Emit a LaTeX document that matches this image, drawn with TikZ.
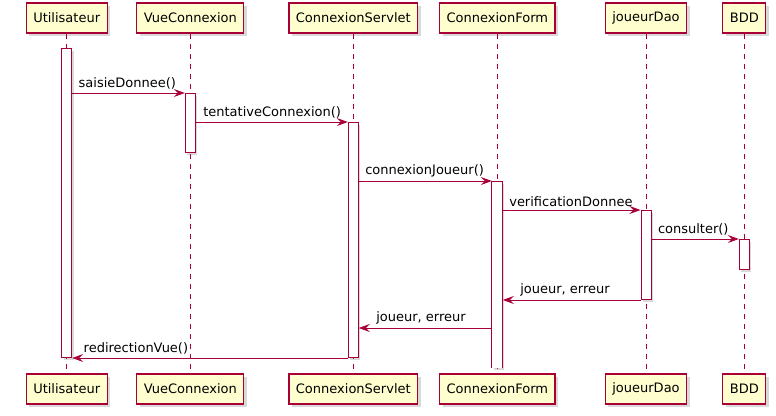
\documentclass[tikz,border=0pt]{standalone}
\usepackage{fontspec}
\setmainfont{DejaVu Sans}
\usetikzlibrary{arrows.meta,positioning,shadows}
\definecolor{umlred}{HTML}{A80036}
\definecolor{umlfill}{HTML}{FEFECE}

\begin{document}
\begin{tikzpicture}[x=1pt,y=-1pt,>={Stealth[length=11pt,width=8pt,inset=4pt]},
  part/.style={draw=umlred,fill=umlfill,line width=1.2pt,minimum height=30pt,inner xsep=7pt,
    font=\fontsize{13}{15}\selectfont,drop shadow={shadow xshift=3pt,shadow yshift=-3pt,opacity=0.3}},
  life/.style={draw=umlred,dash pattern=on 5pt off 5pt,line width=0.9pt},
  bar/.style={draw=umlred,fill=white,line width=1pt,minimum width=10pt,inner sep=0pt,anchor=north,
    drop shadow={shadow xshift=2pt,shadow yshift=-2pt,opacity=0.3}},
  msg/.style={draw=umlred,->,line width=1pt},
  lbl/.style={font=\fontsize{13}{15}\selectfont,inner sep=0pt}]
  \useasboundingbox (0,0) rectangle (776,415);

  % participants and lifelines
  \foreach \id/\name/\x in {u/Utilisateur/66.7, v/VueConnexion/190.3, s/ConnexionServlet/353.3,
      f/ConnexionForm/497.3, d/joueurDao/646, b/BDD/744.3} {
    \node[part] (\id T) at (\x,18) {\name};
    \node[part] (\id B) at (\x,389) {\name};
    \draw[life] (\id T) -- (\id B);
  }

  % activations
  \node[bar,minimum height=309pt] (aU) at (66.7,48) {};
  \node[bar,minimum height=59pt] (aV) at (190.3,93) {};
  \node[bar,minimum height=235pt] (aS) at (353.3,122) {};
  \node[bar,draw=none,minimum height=186pt] (aF) at (497.3,181) {};
  \draw[umlred,line width=1pt] (aF.south west) -- (aF.north west) -- (aF.north east) -- (aF.south east);
  \node[bar,minimum height=89pt] (aD) at (646,210) {};
  \node[bar,minimum height=30pt] (aB) at (744.3,239) {};

  % messages
  \draw[msg] (aU.east |- aV.north) -- (aV.north west)
    node[lbl,pos=0,above right=3pt and 6pt] {saisieDonnee()};
  \draw[msg] (aV.east |- aS.north) -- (aS.north west)
    node[lbl,pos=0,above right=3pt and 7pt] {tentativeConnexion()};
  \draw[msg] (aS.east |- aF.north) -- (aF.north west)
    node[lbl,pos=0,above right=3pt and 6pt] {connexionJoueur()};
  \draw[msg] (aF.east |- aD.north) -- (aD.north west)
    node[lbl,pos=0,above right=3pt and 6pt] {verificationDonnee};
  \draw[msg] (aD.east |- aB.north) -- (aB.north west)
    node[lbl,pos=0,above right=3pt and 6pt] {consulter()};
  \draw[msg] (aD.south west) -- (aF.east |- aD.south)
    node[lbl,pos=1,above right=3pt and 17pt] {joueur, erreur};
  \draw[msg] (aF.west |- 0,328) -- (aS.east |- 0,328)
    node[lbl,pos=1,above right=3pt and 17pt] {joueur, erreur};
  \draw[msg] (aS.south west) -- (aU.south east)
    node[lbl,pos=1,above right=3pt and 11pt] {redirectionVue()};
\end{tikzpicture}
\end{document}
